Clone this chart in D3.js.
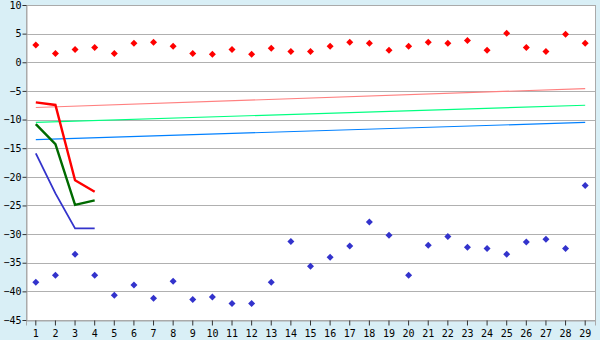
<!DOCTYPE html>
<html>
<head>
<meta charset="utf-8">
<script src="https://cdn.jsdelivr.net/npm/d3@7"></script>
<style>
  body { margin: 0; background: #d9eff6; }
  svg { display: block; }
  .axis text { font-family: "DejaVu Sans Mono", monospace; font-size: 10px; fill: #000; }
</style>
</head>
<body>
<script>
// categories 1..29
var categories = ["1","2","3","4","5","6","7","8","9","10","11","12","13","14","15",
                  "16","17","18","19","20","21","22","23","24","25","26","27","28","29"];
var yTicks = [-45, -40, -35, -30, -25, -20, -15, -10, -5, 0, 5, 10];

// scatter series
var redPoints = [3.0, 1.55, 2.25, 2.6, 1.55, 3.3, 3.5, 2.8, 1.55, 1.4, 2.25, 1.4, 2.45, 1.9, 1.9,
                 2.8, 3.5, 3.3, 2.1, 2.8, 3.5, 3.3, 3.8, 2.1, 5.05, 2.6, 1.9, 4.9, 3.3];
var bluePoints = [-38.4, -37.2, -33.5, -37.2, -40.7, -38.9, -41.2, -38.25, -41.4, -41.0, -42.1, -42.1, -38.4, -31.3, -35.6,
                  -34.05, -32.1, -27.9, -30.2, -37.2, -31.95, -30.4, -32.3, -32.5, -33.5, -31.4, -30.9, -32.5, -21.5];

// short lines over categories 1-4
var shortCats = ["1", "2", "3", "4"];
var redLine = [-7.0, -7.45, -20.6, -22.6];
var greenLine = [-10.8, -14.3, -24.9, -24.1];
var blueLine = [-15.9, -22.9, -29.0, -29.0];

// trend lines, first and last category
var trendCats = ["1", "29"];
var pinkTrend = [-7.9, -4.6];
var lightGreenTrend = [-10.5, -7.5];
var lightBlueTrend = [-13.5, -10.5];

var W = 600, H = 340;
var margin = {top: 5, right: 5, bottom: 20, left: 26};
var width = W - margin.left - margin.right,
    height = H - margin.top - margin.bottom;

var svg = d3.select("body").append("svg")
    .attr("width", W)
    .attr("height", H);

var g = svg.append("g")
    .attr("transform", "translate(" + margin.left + "," + margin.top + ")");

var x = d3.scaleBand().domain(categories).range([0, width]);
var y = d3.scaleLinear().domain([-45, 10]).range([height, 0]);
function cx(c) { return x(c) + x.bandwidth() / 2; }

g.append("rect")
    .attr("width", width).attr("height", height)
    .attr("fill", "#fff");

// gridlines
g.selectAll(".grid")
  .data(yTicks)
.enter().append("line")
  .attr("class", "grid")
  .attr("x1", 0).attr("x2", width)
  .attr("y1", function(d) { return Math.round(y(d)) + 0.5; })
  .attr("y2", function(d) { return Math.round(y(d)) + 0.5; })
  .attr("stroke", "#b0b0b0");

g.append("rect")
    .attr("x", 0.5).attr("y", 0.5)
    .attr("width", width).attr("height", height)
    .attr("fill", "none").attr("stroke", "#aaa");

// axes
var yAxis = g.append("g")
    .attr("class", "axis")
    .attr("transform", "translate(0.5,0)")
    .call(d3.axisLeft(y).tickValues(yTicks).tickSize(4).tickPadding(1));
yAxis.select(".domain").attr("stroke", "#aaa");
yAxis.selectAll(".tick line").attr("stroke", "#333");

var xAxis = g.append("g")
    .attr("class", "axis")
    .attr("transform", "translate(0," + (height + 0.5) + ")")
    .call(d3.axisBottom(x).tickSize(5).tickPadding(4));
xAxis.select(".domain").attr("stroke", "#aaa");
xAxis.selectAll(".tick line").attr("stroke", "#333");

// trend lines
function drawLine(cats, vals, color, w) {
    var line = d3.line()
        .x(function(d, i) { return cx(cats[i]); })
        .y(function(d) { return y(d); });
    g.append("path")
        .datum(vals)
        .attr("d", line)
        .attr("fill", "none")
        .attr("stroke", color)
        .attr("stroke-width", w);
}
drawLine(trendCats, pinkTrend, "#ff8080", 1.2);
drawLine(trendCats, lightGreenTrend, "#00ff80", 1.2);
drawLine(trendCats, lightBlueTrend, "#0080ff", 1.2);

drawLine(shortCats, blueLine, "#3333cc", 1.8);
drawLine(shortCats, greenLine, "#006a00", 2.4);
drawLine(shortCats, redLine, "#ff0000", 2.4);

// markers
var marker = "M0,-3.5L3.5,0L0,3.5L-3.5,0Z";
function drawPoints(vals, color) {
    g.append("g").selectAll("path")
      .data(vals)
    .enter().append("path")
      .attr("d", marker)
      .attr("transform", function(d, i) { return "translate(" + cx(categories[i]) + "," + y(d) + ")"; })
      .attr("fill", color);
}
drawPoints(redPoints, "#ff0000");
drawPoints(bluePoints, "#3333cc");
</script>
</body>
</html>
